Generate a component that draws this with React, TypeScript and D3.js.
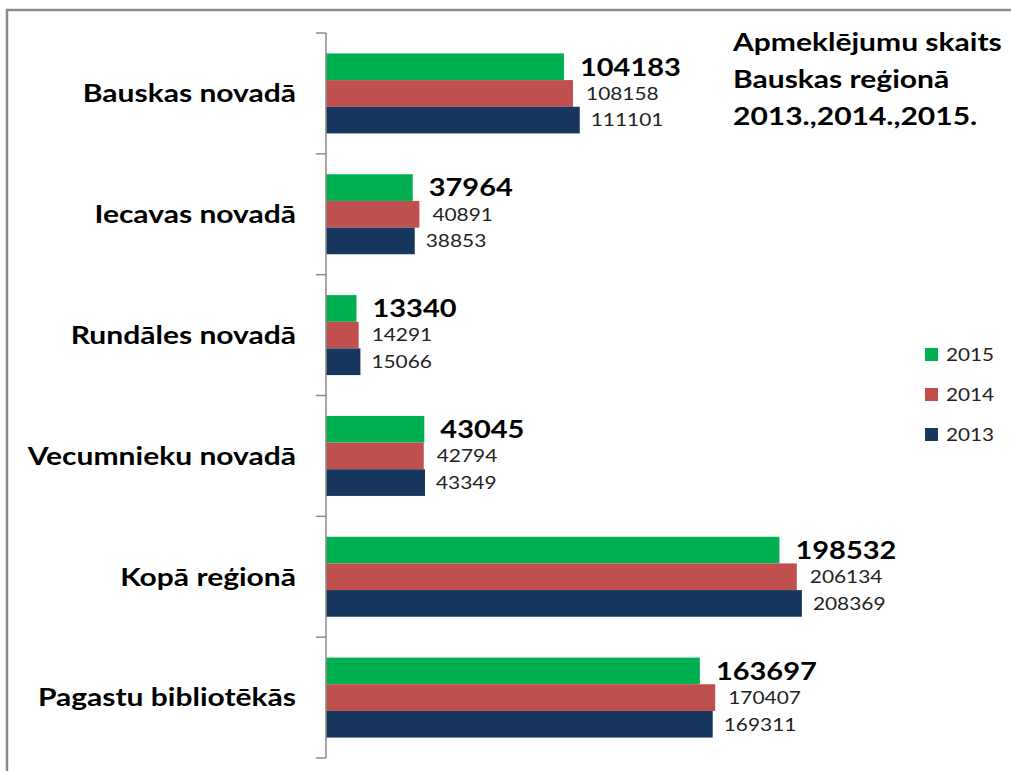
import React from "react";
import * as d3 from "d3";

const categories = ["Bauskas novadā", "Iecavas novadā", "Rundāles novadā", "Vecumnieku novadā", "Kopā reģionā", "Pagastu bibliotēkās"];
const seriesNames = ["2015", "2014", "2013"];
const values2015 = [104183, 37964, 13340, 43045, 198532, 163697];
const values2014 = [108158, 40891, 14291, 42794, 206134, 170407];
const values2013 = [111101, 38853, 15066, 43349, 208369, 169311];
const colors = ["#00B050", "#C0504D", "#17375E"];
const titleLines = ["Apmeklējumu skaits", "Bauskas reģionā", "2013.,2014.,2015."];
const legendOrder = ["2015", "2014", "2013"];

const W = 1011, H = 771;
const FONT = "Lato, 'Open Sans', sans-serif";

function SText(props: { x: number; y: number; sx: number; anchor?: string; size: number; bold?: boolean; fill?: string; children: React.ReactNode }) {
  const { x, y, sx, anchor, size, bold, fill, children } = props;
  return (
    <text
      transform={`translate(${x},${y}) scale(${sx},1)`}
      dy="0.35em"
      textAnchor={anchor || "start"}
      fontSize={size}
      fontWeight={bold ? "bold" : "normal"}
      fill={fill || "#000"}
    >
      {children}
    </text>
  );
}

export default function App() {
  const seriesValues = [values2015, values2014, values2013];
  const axisX = 326;
  const x = d3.scaleLinear().domain([0, 250000]).range([axisX, axisX + 571]);
  const y = d3.scaleBand<string>().domain(categories).range([33, 758]).paddingInner(0.338).paddingOuter(0.169);
  const ys = d3.scaleBand<string>().domain(seriesNames).range([0, y.bandwidth()]);
  const step = y.step();
  const tickYs = d3.range(categories.length + 1).map((i) => 33 + i * step);
  const legendY = d3.scalePoint<string>().domain(legendOrder).range([355, 435]);

  return (
    <svg width={W} height={H} style={{ position: "absolute", left: 0, top: 0, background: "#fff" }} fontFamily={FONT}>
      <rect x={0} y={0} width={W} height={H} fill="#fff" />
      <path d={`M7,${H} V10 H${W}`} fill="none" stroke="#8a8a8a" strokeWidth={2.5} />
      {categories.map((c, ci) => (
        <g key={c}>
          {seriesNames.map((s, si) => {
            const v = seriesValues[si][ci];
            const y0 = (y(c) as number) + (ys(s) as number);
            return (
              <g key={s}>
                <rect x={x(0)} y={y0} width={x(v) - x(0)} height={ys.bandwidth()} fill={colors[si]} />
                <SText
                  x={x(v) + (si === 0 ? 16 : si === 1 ? 13 : 11)}
                  y={y0 + ys.bandwidth() / 2}
                  sx={1.16}
                  size={si === 0 ? 25 : 18}
                  bold={si === 0}
                  fill={si === 0 ? "#000" : "#222"}
                >
                  {v}
                </SText>
              </g>
            );
          })}
          <SText x={296} y={(y(c) as number) + y.bandwidth() / 2} sx={1.2} anchor="end" size={25} bold>
            {c}
          </SText>
        </g>
      ))}
      <line x1={axisX} x2={axisX} y1={33} y2={758} stroke="#8a8a8a" strokeWidth={1.5} />
      {tickYs.map((t, i) => (
        <line key={i} x1={axisX - 10} x2={axisX} y1={t} y2={t} stroke="#8a8a8a" strokeWidth={1.5} />
      ))}
      {titleLines.map((l, i) => (
        <SText key={i} x={733} y={42 + i * 37} sx={1.2} size={25} bold>
          {l}
        </SText>
      ))}
      {legendOrder.map((s, i) => (
        <g key={s}>
          <rect x={925} y={(legendY(s) as number) - 7} width={13} height={13} fill={colors[i]} />
          <SText x={946} y={legendY(s) as number} sx={1.15} size={18} fill="#222">
            {s}
          </SText>
        </g>
      ))}
    </svg>
  );
}
